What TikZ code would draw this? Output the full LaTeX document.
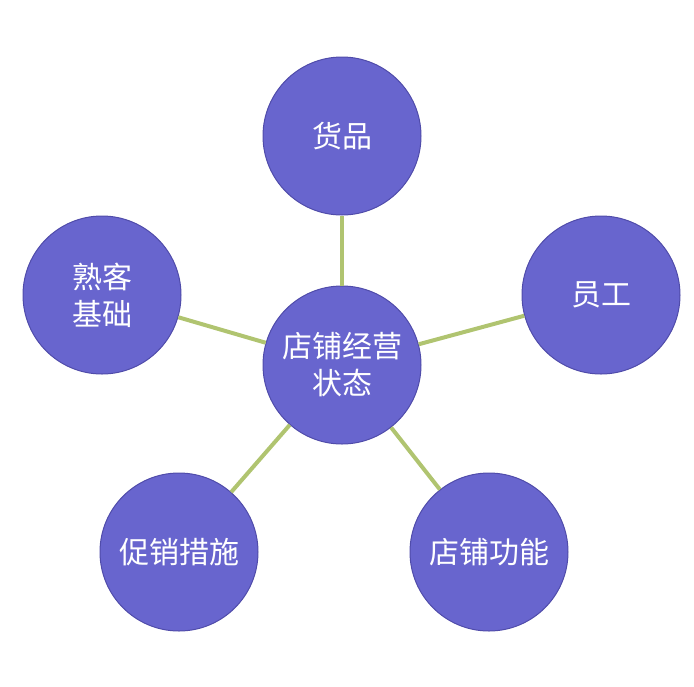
\documentclass[tikz,border=0pt]{standalone}
\usepackage{fontspec}
\newfontfamily\cjk{Noto Sans CJK SC}
\definecolor{ballfill}{RGB}{104,101,206}
\definecolor{balledge}{RGB}{80,76,170}
\definecolor{stick}{RGB}{176,196,112}
\tikzset{
  ball/.style={circle, fill=ballfill, draw=balledge, line width=1pt,
    minimum size=158pt, inner sep=0pt, text=white, align=center,
    font=\cjk\fontsize{30}{37}\selectfont},
  stickline/.style={draw=stick, line width=4pt}
}
\begin{document}
\begin{tikzpicture}[x=1pt,y=-1pt]
\useasboundingbox (0,0) rectangle (694,686);

\node[ball] (state) at (342,365) {店铺经营\\状态};
\node[ball] (goods) at (342,136) {货品};
\node[ball] (staff) at (601,295) {员工};
\node[ball] (base) at (102,295) {熟客\\基础};
\node[ball] (promo) at (179,552) {促销措施};
\node[ball] (func) at (489,552) {店铺功能};

\foreach \n in {goods,staff,base,promo,func}
  \draw[stickline] (state) -- (\n);
\end{tikzpicture}
\end{document}
